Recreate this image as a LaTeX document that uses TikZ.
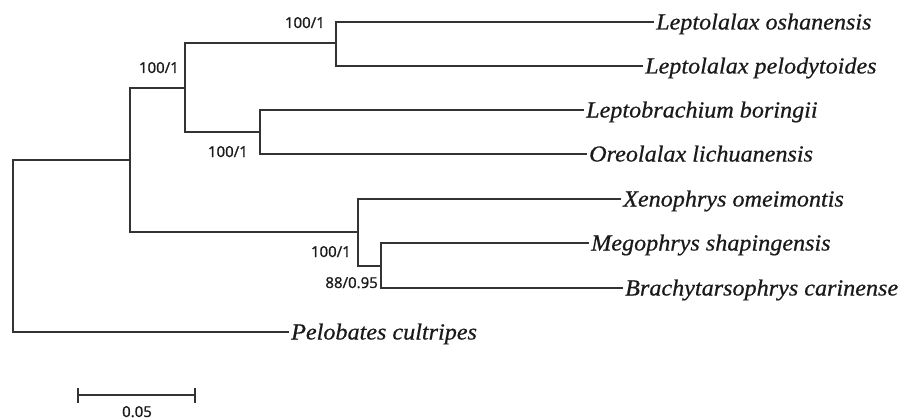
\documentclass[tikz,border=0pt]{standalone}
\usepackage{fontspec}
\setmainfont{Liberation Serif}
\newfontfamily\taxfont[FakeStretch=1.05,FakeBold=0.6]{Liberation Serif Italic}
\newfontfamily\supfont[FakeBold=1.2]{Open Sans}
\usetikzlibrary{arrows.meta}
\definecolor{branch}{HTML}{333333}
\definecolor{ink}{HTML}{1A1A1A}
\tikzset{
  branchline/.style={draw=branch, line width=1.9pt, line cap=rect},
  leaf/.style={anchor=west, inner xsep=3pt, inner ysep=0pt, text height=15pt, text depth=0pt,
    font=\taxfont\fontsize{23}{25}\selectfont, text=ink},
  support/.style={anchor=base east, inner sep=0pt, font=\supfont\fontsize{15}{17}\selectfont, text=ink},
}
\begin{document}
\begin{tikzpicture}[x=1pt,y=-1pt]
\useasboundingbox (0,0) rectangle (905,420);
% internal nodes
\coordinate (R) at (13,246);
\coordinate (A) at (130,160);
\coordinate (B) at (185,88);
\coordinate (C) at (336,43);
\coordinate (D) at (260,132);
\coordinate (E) at (358,232);
\coordinate (F) at (381,266);
% leaves
\node[leaf] (l1) at (653,22) {Leptolalax oshanensis};
\node[leaf] (l2) at (642,66) {Leptolalax pelodytoides};
\node[leaf] (l3) at (583,110) {Leptobrachium boringii};
\node[leaf] (l4) at (586,154) {Oreolalax lichuanensis};
\node[leaf] (l5) at (620,199) {Xenophrys omeimontis};
\node[leaf] (l6) at (588,243) {Megophrys shapingensis};
\node[leaf] (l7) at (622,288) {Brachytarsophrys carinense};
\node[leaf] (l8) at (288,332) {Pelobates cultripes};
% branches
\draw[branchline] (R) |- (A);
\draw[branchline] (R) |- (l8.west);
\draw[branchline] (A) |- (B);
\draw[branchline] (A) |- (E);
\draw[branchline] (B) |- (C);
\draw[branchline] (B) |- (D);
\draw[branchline] (C) |- (l1.west);
\draw[branchline] (C) |- (l2.west);
\draw[branchline] (D) |- (l3.west);
\draw[branchline] (D) |- (l4.west);
\draw[branchline] (E) |- (l5.west);
\draw[branchline] (E) |- (F);
\draw[branchline] (F) |- (l6.west);
\draw[branchline] (F) |- (l7.west);
% support values
\node[support] (s1) at (325,28) {100/1};
\node[support] (s2) at (179,73) {100/1};
\node[support] (s3) at (248,157) {100/1};
\node[support] (s4) at (351,257) {100/1};
\node[support] (s5) at (378,288) {88/0.95};
% scale bar
\coordinate (S1) at (77,395);
\coordinate (S2) at (196,395);
\draw[draw=branch, line width=1.9pt, {Bar[width=15pt]}-{Bar[width=15pt]}] (S1) -- (S2);
\node[inner sep=0pt, anchor=base, font=\supfont\fontsize{15}{17}\selectfont, text=ink] (sl) at (137,417) {0.05};
\end{tikzpicture}
\end{document}
